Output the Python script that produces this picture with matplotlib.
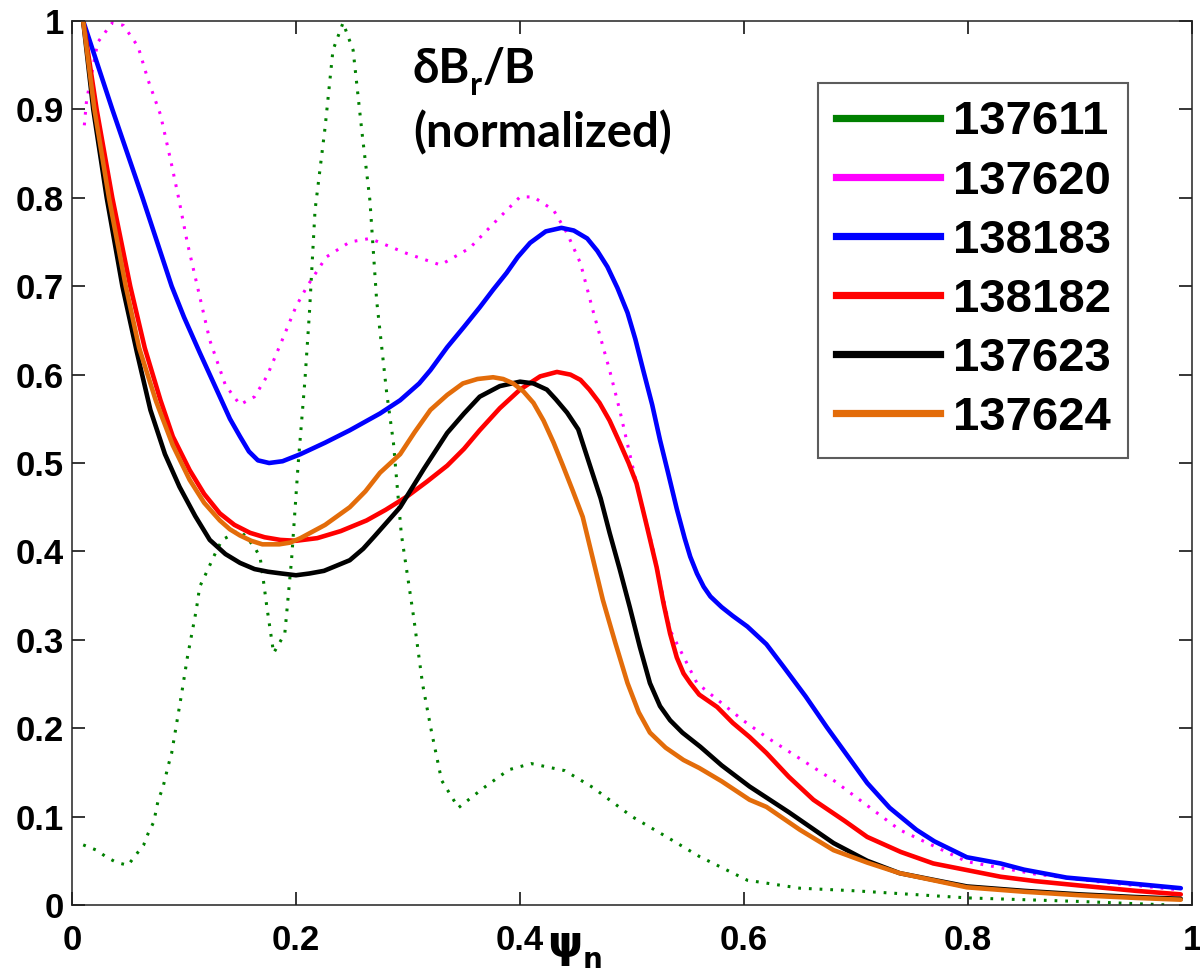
import numpy as np
import matplotlib.pyplot as plt
from matplotlib.lines import Line2D

# -------------------
# DATA
# -------------------
labels = ['137611', '137620', '138183', '138182', '137623', '137624']
colors = ['#008000', '#ff00ff', '#0000ff', '#ff0000', '#000000', '#e36c0a']

x_611 = [0.01, 0.022, 0.031, 0.04, 0.05, 0.056, 0.064, 0.068, 0.073, 0.077, 0.081, 0.086, 0.089,
         0.098, 0.103, 0.107, 0.111, 0.114, 0.12, 0.128, 0.134, 0.15, 0.163, 0.168, 0.171, 0.174,
         0.177, 0.18, 0.19, 0.196, 0.202, 0.208, 0.212, 0.217, 0.226, 0.233, 0.242, 0.251, 0.259,
         0.266, 0.272, 0.281, 0.287, 0.294, 0.305, 0.313, 0.321, 0.33, 0.345, 0.367, 0.39, 0.41,
         0.44, 0.465, 0.5, 0.531, 0.56, 0.603, 0.65, 0.7, 0.8, 0.9, 0.98]
y_611 = [0.068, 0.062, 0.054, 0.048, 0.045, 0.055, 0.068, 0.081, 0.094, 0.119, 0.132, 0.158, 0.172,
         0.24, 0.28, 0.307, 0.334, 0.36, 0.376, 0.398, 0.413, 0.424, 0.405, 0.393, 0.366, 0.337,
         0.311, 0.285, 0.307, 0.39, 0.5, 0.594, 0.67, 0.786, 0.88, 0.967, 0.998, 0.967, 0.873,
         0.797, 0.684, 0.579, 0.523, 0.42, 0.326, 0.25, 0.196, 0.141, 0.11, 0.132, 0.153, 0.16,
         0.152, 0.133, 0.1, 0.077, 0.055, 0.028, 0.019, 0.016, 0.008, 0.004, 0.0]

x_620 = [0.011, 0.013, 0.023, 0.036, 0.046, 0.059, 0.068, 0.079, 0.088, 0.095, 0.103, 0.113, 0.123,
         0.137, 0.15, 0.163, 0.174, 0.187, 0.2, 0.21, 0.227, 0.248, 0.266, 0.299, 0.329, 0.355,
         0.378, 0.4, 0.412, 0.43, 0.442, 0.454, 0.465, 0.48, 0.489, 0.504, 0.519, 0.534, 0.558,
         0.599, 0.62, 0.68, 0.739, 0.799, 0.86, 0.918, 0.99]
y_620 = [0.882, 0.91, 0.976, 0.998, 0.995, 0.971, 0.933, 0.894, 0.843, 0.801, 0.749, 0.694, 0.639,
         0.588, 0.566, 0.575, 0.598, 0.637, 0.677, 0.7, 0.733, 0.75, 0.754, 0.737, 0.724, 0.743,
         0.773, 0.801, 0.801, 0.786, 0.76, 0.726, 0.673, 0.605, 0.56, 0.477, 0.402, 0.311, 0.251,
         0.209, 0.19, 0.141, 0.085, 0.049, 0.035, 0.026, 0.017]

x_183 = [0.01, 0.036, 0.063, 0.089, 0.1, 0.114, 0.123, 0.132, 0.141, 0.15, 0.158, 0.166, 0.176,
         0.188, 0.204, 0.226, 0.248, 0.275, 0.293, 0.31, 0.32, 0.335, 0.35, 0.364, 0.376,
         0.388, 0.398, 0.409, 0.423, 0.437, 0.448, 0.46, 0.469, 0.478, 0.487, 0.496, 0.503, 0.51,
         0.518, 0.525, 0.532, 0.54, 0.547, 0.552, 0.558, 0.564, 0.57, 0.58, 0.59, 0.603, 0.62,
         0.635, 0.655, 0.674, 0.71, 0.73, 0.754, 0.77, 0.799, 0.829, 0.85, 0.888, 0.94, 0.99]
y_183 = [1.0, 0.9, 0.8, 0.7, 0.665, 0.625, 0.6, 0.575, 0.55, 0.53, 0.513, 0.503, 0.5,
         0.502, 0.51, 0.523, 0.537, 0.556, 0.571, 0.59, 0.605, 0.631, 0.654, 0.676, 0.696,
         0.715, 0.733, 0.749, 0.762, 0.766, 0.763, 0.754, 0.74, 0.722, 0.698, 0.67, 0.64, 0.605,
         0.566, 0.526, 0.49, 0.448, 0.415, 0.394, 0.375, 0.36, 0.349, 0.337, 0.327, 0.315, 0.295,
         0.27, 0.236, 0.201, 0.138, 0.11, 0.085, 0.072, 0.054, 0.047, 0.04, 0.031, 0.025, 0.019]

x_182 = [0.01, 0.022, 0.036, 0.052, 0.065, 0.079, 0.09, 0.105, 0.118, 0.132, 0.145, 0.159, 0.172,
         0.186, 0.2, 0.219, 0.24, 0.263, 0.28, 0.299, 0.317, 0.335, 0.35, 0.364, 0.382, 0.4, 0.418,
         0.433, 0.445, 0.454, 0.462, 0.471, 0.48, 0.489, 0.497, 0.504, 0.513, 0.522, 0.528, 0.534,
         0.54, 0.546, 0.552, 0.56, 0.576, 0.59, 0.605, 0.62, 0.64, 0.662, 0.69, 0.71, 0.74, 0.769,
         0.829, 0.86, 0.9, 0.95, 0.99]
y_182 = [1.0, 0.9, 0.8, 0.7, 0.63, 0.571, 0.53, 0.492, 0.465, 0.443, 0.43, 0.421, 0.416,
         0.413, 0.412, 0.415, 0.423, 0.435, 0.447, 0.462, 0.479, 0.497, 0.516, 0.537, 0.562, 0.583,
         0.598, 0.603, 0.6, 0.594, 0.583, 0.568, 0.548, 0.523, 0.5, 0.477, 0.43, 0.382, 0.342, 0.307,
         0.28, 0.262, 0.251, 0.238, 0.224, 0.206, 0.19, 0.172, 0.145, 0.119, 0.095, 0.077, 0.06, 0.047,
         0.032, 0.027, 0.022, 0.016, 0.012]

x_623 = [0.01, 0.019, 0.031, 0.045, 0.058, 0.07, 0.083, 0.096, 0.11, 0.123, 0.137, 0.15, 0.163,
         0.175, 0.187, 0.2, 0.212, 0.225, 0.248, 0.26, 0.27, 0.293, 0.314, 0.335, 0.35, 0.364, 0.382,
         0.4, 0.412, 0.424, 0.432, 0.442, 0.452, 0.463, 0.472, 0.48, 0.489, 0.498, 0.507, 0.516,
         0.525, 0.534, 0.545, 0.561, 0.58, 0.605, 0.64, 0.68, 0.71, 0.739, 0.799, 0.85, 0.9, 0.95,
         0.99]
y_623 = [1.0, 0.9, 0.8, 0.7, 0.625, 0.56, 0.51, 0.473, 0.44, 0.413, 0.397, 0.387, 0.38,
         0.377, 0.375, 0.373, 0.375, 0.378, 0.39, 0.403, 0.417, 0.45, 0.493, 0.534, 0.556, 0.575, 0.587,
         0.592, 0.59, 0.583, 0.572, 0.557, 0.538, 0.495, 0.46, 0.421, 0.38, 0.337, 0.292, 0.251,
         0.225, 0.209, 0.195, 0.179, 0.158, 0.134, 0.105, 0.07, 0.05, 0.036, 0.021, 0.016, 0.012, 0.009,
         0.007]

x_624 = [0.01, 0.02, 0.033, 0.048, 0.06, 0.075, 0.09, 0.105, 0.118, 0.132, 0.141, 0.15, 0.16,
         0.17, 0.185, 0.195, 0.204, 0.226, 0.248, 0.262, 0.275, 0.293, 0.306, 0.32, 0.335, 0.349,
         0.362, 0.376, 0.385, 0.394, 0.403, 0.412, 0.421, 0.43, 0.438, 0.447, 0.456, 0.465, 0.474,
         0.485, 0.496, 0.506, 0.516, 0.53, 0.546, 0.56, 0.58, 0.605, 0.62, 0.65, 0.68, 0.71, 0.739,
         0.799, 0.85, 0.9, 0.95, 0.99]
y_624 = [1.0, 0.9, 0.8, 0.7, 0.63, 0.57, 0.52, 0.481, 0.455, 0.435, 0.425, 0.418, 0.412,
         0.408, 0.408, 0.41, 0.415, 0.43, 0.45, 0.468, 0.489, 0.51, 0.535, 0.56, 0.577, 0.59,
         0.595, 0.597, 0.595, 0.59, 0.581, 0.568, 0.548, 0.523, 0.498, 0.469, 0.439, 0.392, 0.345,
         0.297, 0.251, 0.218, 0.195, 0.178, 0.164, 0.155, 0.14, 0.119, 0.111, 0.085, 0.062, 0.048, 0.036,
         0.02, 0.015, 0.011, 0.008, 0.006]

xticks = [0, 0.2, 0.4, 0.6, 0.8, 1]
xtick_labels = ['0', '0.2', '0.4', '0.6', '0.8', '1']
yticks = [0, 0.1, 0.2, 0.3, 0.4, 0.5, 0.6, 0.7, 0.8, 0.9, 1]
ytick_labels = ['0', '0.1', '0.2', '0.3', '0.4', '0.5', '0.6', '0.7', '0.8', '0.9', '1']

# -------------------
# FIGURE
# -------------------
W, H = 1200, 977
fig = plt.figure(figsize=(W / 100, H / 100), dpi=100)
ax = fig.add_axes([72 / W, 1 - 905 / H, 1120 / W, 884 / H])

dotted = (0, (0.9, 2.6))
ax.plot(x_611, y_611, color=colors[0], lw=2.2, ls=dotted)
ax.plot(x_620, y_620, color=colors[1], lw=2.2, ls=dotted)
for xs, ys, c in [(x_183, y_183, colors[2]), (x_182, y_182, colors[3]),
                  (x_623, y_623, colors[4]), (x_624, y_624, colors[5])]:
    ax.plot(xs, ys, color=c, lw=3.3, solid_joinstyle='round', solid_capstyle='round')

ax.set_xlim(0, 1)
ax.set_ylim(0, 1)
ax.set_xticks(xticks)
ax.set_xticklabels(xtick_labels)
ax.set_yticks(yticks)
ax.set_yticklabels(ytick_labels)
ax.tick_params(direction='in', length=9.5, width=1.1, top=True, right=True,
               labelsize=25, colors='black')
ax.tick_params(axis='x', pad=14)
ax.tick_params(axis='y', pad=6)
for lab in ax.get_xticklabels() + ax.get_yticklabels():
    lab.set_fontfamily('Liberation Sans')
    lab.set_fontweight('bold')
for sp in ax.spines.values():
    sp.set_linewidth(1.1)
    sp.set_color('#222222')

# legend with solid handles
handles = [Line2D([0], [0], color=c, lw=5.2) for c in colors]
leg = fig.legend(handles, labels, loc='upper right',
                 bbox_to_anchor=(1128 / W, 1 - 83 / H),
                 prop={'family': 'Liberation Sans', 'weight': 'bold', 'size': 34},
                 frameon=True, fancybox=False, handlelength=2.2, handletextpad=0.27,
                 labelspacing=0.32, borderpad=0.37, borderaxespad=0)
leg.get_frame().set_edgecolor('#333333')
leg.get_frame().set_linewidth(1.5)

# annotation text
fig.canvas.draw()
rend = fig.canvas.get_renderer()
fam = ['Lato', 'DejaVu Sans']
t1 = fig.text(413 / W, 1 - 83 / H, 'δB', fontsize=34, fontweight='bold', family=fam, va='baseline')
bb = t1.get_window_extent(rend)
t2 = fig.text(bb.x1 / W, 1 - 95 / H, 'r', fontsize=23, fontweight='bold', family=fam, va='baseline')
bb2 = t2.get_window_extent(rend)
fig.text(bb2.x1 / W, 1 - 83 / H, '/B', fontsize=34, fontweight='bold', family=fam, va='baseline')
fig.text(413 / W, 1 - 147 / H, '(normalized)', fontsize=34, fontweight='bold', family=fam,
         va='baseline')

# x label psi_n
p1 = fig.text(547 / W, 1 - 957 / H, 'ψ', fontsize=32, fontweight='bold', family='DejaVu Sans',
              va='baseline')
pb = p1.get_window_extent(rend)
fig.text(pb.x1 / W, 1 - 968 / H, 'n', fontsize=20, fontweight='bold', family='DejaVu Sans',
         va='baseline')

fig.savefig('out.png', dpi=100)
